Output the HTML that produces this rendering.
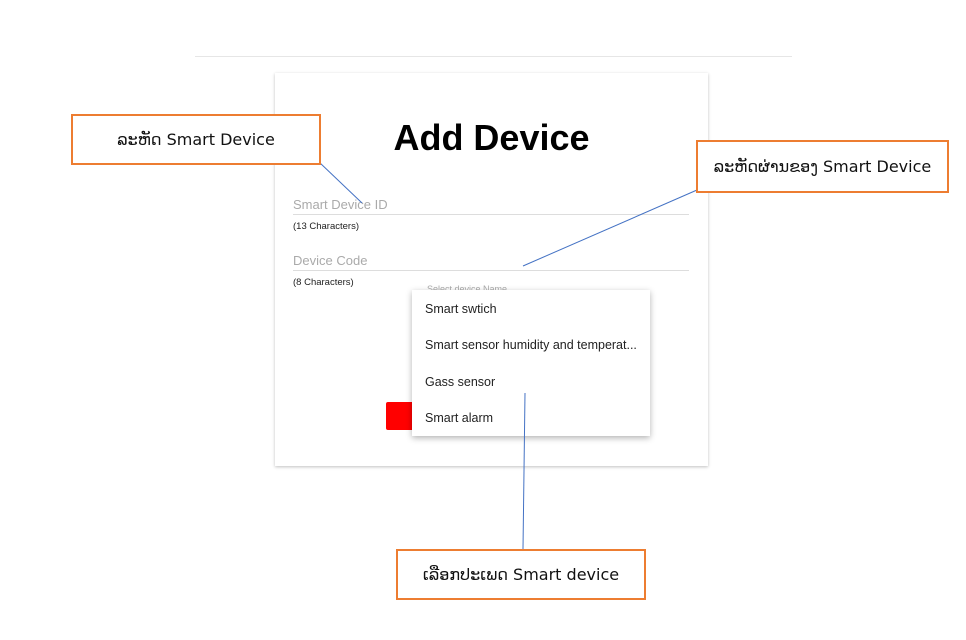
<!DOCTYPE html>
<html><head><meta charset="utf-8"><style>
html,body{margin:0;padding:0;background:#fff;}
body{width:966px;height:640px;position:relative;overflow:hidden;font-family:"Liberation Sans","DejaVu Sans",sans-serif;}
.abs{position:absolute;}
.card{left:275px;top:73px;width:433px;height:393px;background:#fff;box-shadow:0 1px 3px rgba(0,0,0,0.25);}
.call{position:absolute;border:2px solid #ed7d31;background:#fff;box-sizing:border-box;display:flex;align-items:center;justify-content:center;font-family:"DejaVu Sans","Liberation Sans",sans-serif;font-size:16px;color:#111;}
.lbl{color:#aaa;font-size:13px;}
.hint{font-size:9.5px;color:#222;}
.ul{height:1px;background:#ddd;}
.menu{left:412px;top:290px;width:238px;height:146px;background:#fff;box-shadow:0 2px 6px rgba(0,0,0,0.3);}
.mi{position:absolute;left:13px;font-size:12.5px;color:#222;}
</style></head><body>
<div class="abs" style="left:195px;top:56px;width:597px;height:1px;background:#e6e6e6"></div>
<div class="abs card"></div>
<div class="abs" style="left:275px;top:117px;width:433px;text-align:center;font-weight:bold;font-size:36px;color:#000">Add Device</div>
<div class="abs lbl" style="left:293px;top:197px">Smart Device ID</div>
<div class="abs ul" style="left:293px;top:214px;width:396px"></div>
<div class="abs hint" style="left:293px;top:221px">(13 Characters)</div>
<div class="abs lbl" style="left:293px;top:253px">Device Code</div>
<div class="abs ul" style="left:293px;top:270px;width:396px"></div>
<div class="abs hint" style="left:293px;top:277px">(8 Characters)</div>
<div class="abs" style="left:427px;top:284px;font-size:9px;color:#aaa">Select device Name</div>
<div class="abs" style="left:386px;top:402px;width:30px;height:28px;background:#f00;border-radius:2px"></div>
<div class="abs menu">
<div class="mi" style="top:12px">Smart swtich</div>
<div class="mi" style="top:48px">Smart sensor humidity and temperat...</div>
<div class="mi" style="top:85px">Gass sensor</div>
<div class="mi" style="top:121px">Smart alarm</div>
</div>
<svg class="abs" style="left:0;top:0" width="966" height="640">
<line x1="319" y1="162" x2="362" y2="203" stroke="#4472c4" stroke-width="1"/>
<line x1="697" y1="190" x2="523" y2="266" stroke="#4472c4" stroke-width="1"/>
<line x1="525" y1="393" x2="523" y2="549" stroke="#4472c4" stroke-width="1"/>
</svg>
<div class="call" style="left:71px;top:114px;width:250px;height:51px">ລະຫັດ Smart Device</div>
<div class="call" style="left:696px;top:140px;width:253px;height:53px">ລະຫັດຜ່ານຂອງ Smart Device</div>
<div class="call" style="left:396px;top:549px;width:250px;height:51px">ເລືອກປະເພດ Smart device</div>
</body></html>
